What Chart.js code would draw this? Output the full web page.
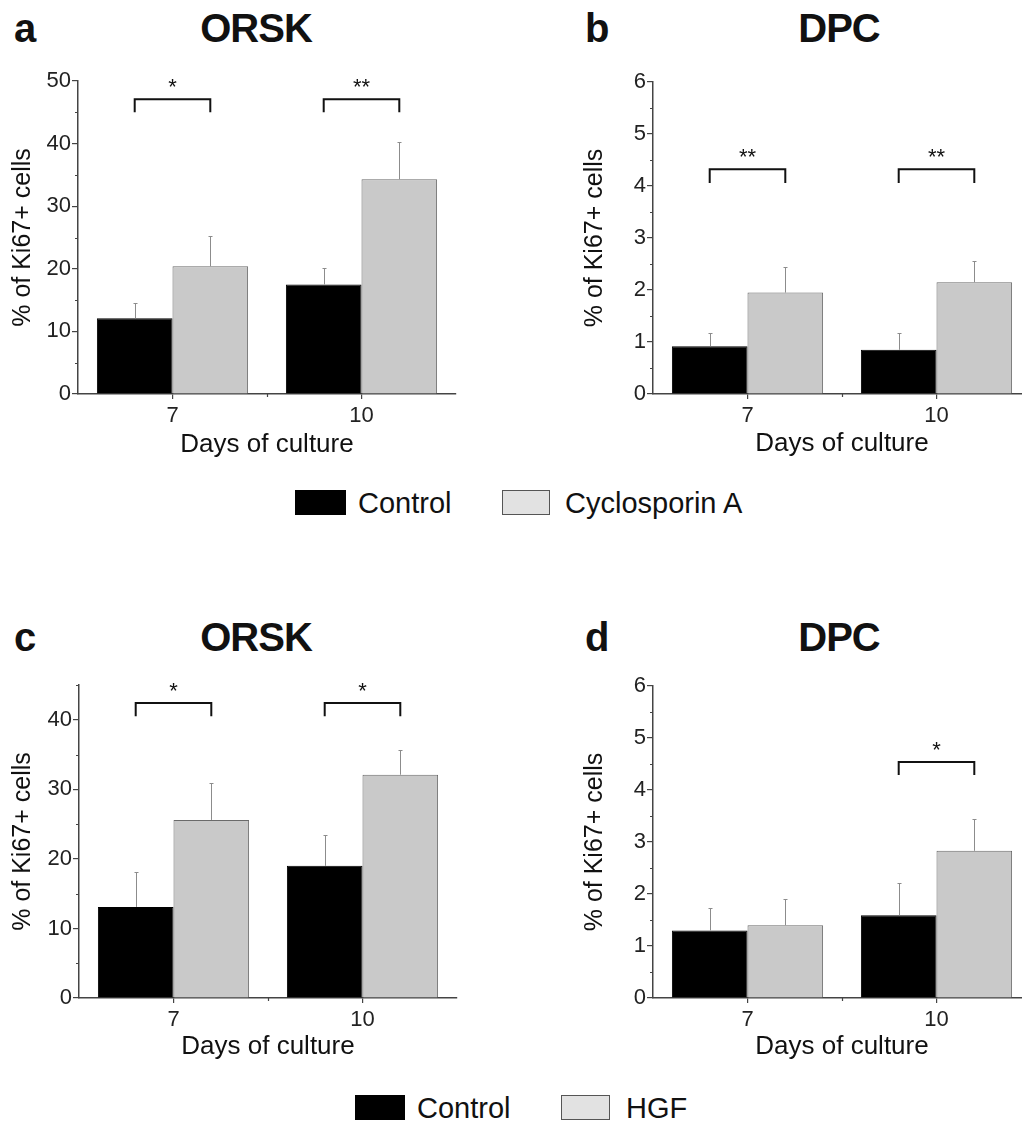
<!DOCTYPE html>
<html>
<head>
<meta charset="utf-8">
<script src="https://cdn.jsdelivr.net/npm/chart.js@4.4.1/dist/chart.umd.min.js"></script>
<style>
  html, body { margin: 0; padding: 0; background: #fff; }
  body { position: relative; width: 1022px; height: 1122px; overflow: hidden; font-family: "Liberation Sans", Arial, sans-serif; color: #111; }
  .pane { position: absolute; }
  .lbl { position: absolute; font-weight: bold; font-size: 40px; line-height: 1; letter-spacing: -1px; white-space: nowrap; }
  .ttl { text-align: center; width: 200px; }
  .leg { position: absolute; font-size: 29px; line-height: 1; white-space: nowrap; }
  .sw { position: absolute; box-sizing: border-box; height: 25px; }
</style>
</head>
<body>
<div class="lbl" style="left:14px;top:8px">a</div>
<div class="lbl ttl" style="left:156px;top:8px">ORSK</div>
<div class="lbl" style="left:585px;top:8px">b</div>
<div class="lbl ttl" style="left:739px;top:8px">DPC</div>
<div class="lbl" style="left:14px;top:617px">c</div>
<div class="lbl ttl" style="left:156px;top:617px">ORSK</div>
<div class="lbl" style="left:585px;top:617px">d</div>
<div class="lbl ttl" style="left:739px;top:617px">DPC</div>

<div class="pane" style="left:0;top:0"><canvas id="chartA" width="511" height="470"></canvas></div>
<div class="pane" style="left:511px;top:0"><canvas id="chartB" width="540" height="470"></canvas></div>
<div class="pane" style="left:0;top:560px"><canvas id="chartC" width="511" height="520"></canvas></div>
<div class="pane" style="left:511px;top:560px"><canvas id="chartD" width="540" height="520"></canvas></div>

<div class="sw" style="left:295px;top:490px;width:51px;background:#000"></div>
<div class="leg" style="left:358px;top:489px">Control</div>
<div class="sw" style="left:502px;top:490px;width:48px;background:#e2e2e2;border:1px solid #555"></div>
<div class="leg" style="left:565px;top:489px">Cyclosporin A</div>

<div class="sw" style="left:355px;top:1095px;width:50px;background:#000"></div>
<div class="leg" style="left:417px;top:1094px">Control</div>
<div class="sw" style="left:561px;top:1095px;width:49px;background:#e2e2e2;border:1px solid #555"></div>
<div class="leg" style="left:626px;top:1094px">HGF</div>

<script>
const days = ['7', '10'];

// a - ORSK, cyclosporin A
const ctrlA = [12.1, 17.5];
const ctrlAErr = [2.4, 2.6];
const csaA = [20.4, 34.3];
const csaAErr = [4.9, 6.0];
const sigA = [[0, 47.1, 45.0, '*'], [1, 47.1, 45.0, '**']];

// b - DPC, cyclosporin A
const ctrlB = [0.92, 0.85];
const ctrlBErr = [0.25, 0.32];
const csaB = [1.95, 2.15];
const csaBErr = [0.49, 0.41];
const sigB = [[0, 4.32, 4.06, '**'], [1, 4.32, 4.06, '**']];

// c - ORSK, HGF
const ctrlC = [13.1, 19.0];
const ctrlCErr = [5.0, 4.5];
const hgfC = [25.6, 32.1];
const hgfCErr = [5.3, 3.5];
const sigC = [[0, 42.4, 40.5, '*'], [1, 42.4, 40.5, '*']];

// d - DPC, HGF
const ctrlD = [1.30, 1.59];
const ctrlDErr = [0.43, 0.63];
const hgfD = [1.40, 2.83];
const hgfDErr = [0.50, 0.62];
const sigD = [[1, 4.54, 4.29, '*']];

const FONT = '"Liberation Sans", Arial, sans-serif';
const AXIS = '#444';

// upward error bars
const errorBars = {
  id: 'errorBars',
  afterDatasetsDraw(chart) {
    const ctx = chart.ctx;
    const y = chart.scales.y;
    ctx.save();
    ctx.strokeStyle = '#8c8c8c';
    ctx.lineWidth = 1;
    chart.data.datasets.forEach((ds, i) => {
      chart.getDatasetMeta(i).data.forEach((bar, j) => {
        const top = Math.round(y.getPixelForValue(ds.data[j] + ds.errors[j])) + 0.5;
        const x = Math.round(bar.x) + 0.5;
        ctx.beginPath();
        ctx.moveTo(x, bar.y);
        ctx.lineTo(x, top);
        ctx.moveTo(x - 2, top);
        ctx.lineTo(x + 2, top);
        ctx.stroke();
      });
    });
    ctx.restore();
  }
};

// significance brackets + stars
const brackets = {
  id: 'brackets',
  afterDraw(chart, args, opts) {
    const ctx = chart.ctx;
    const y = chart.scales.y;
    ctx.save();
    ctx.strokeStyle = '#111';
    ctx.lineWidth = 2;
    ctx.fillStyle = '#111';
    ctx.font = '22px ' + FONT;
    ctx.textAlign = 'center';
    ctx.textBaseline = 'alphabetic';
    (opts.items || []).forEach(([cat, level, leg, txt]) => {
      const x0 = chart.getDatasetMeta(0).data[cat].x;
      const x1 = chart.getDatasetMeta(1).data[cat].x;
      const yl = y.getPixelForValue(level);
      const yb = y.getPixelForValue(leg);
      ctx.beginPath();
      ctx.moveTo(x0, yb);
      ctx.lineTo(x0, yl);
      ctx.lineTo(x1, yl);
      ctx.lineTo(x1, yb);
      ctx.stroke();
      ctx.fillText(txt, (x0 + x1) / 2, yl - 5);
    });
    ctx.restore();
  }
};

// short unlabeled ticks between the labelled ones
const minorTicks = {
  id: 'minorTicks',
  afterDraw(chart) {
    const ctx = chart.ctx;
    const y = chart.scales.y;
    const x = chart.scales.x;
    const step = chart.options.scales.y.ticks.stepSize;
    ctx.save();
    ctx.strokeStyle = AXIS;
    ctx.lineWidth = 1.2;
    ctx.beginPath();
    for (let v = step / 2; v <= y.max + 1e-9; v += step) {
      const py = Math.round(y.getPixelForValue(v)) + 0.5;
      ctx.moveTo(y.right - 3, py);
      ctx.lineTo(y.right, py);
    }
    for (let i = 0; i < days.length - 1; i++) {
      const px = Math.round((x.getPixelForTick(i) + x.getPixelForTick(i + 1)) / 2) + 0.5;
      ctx.moveTo(px, x.top);
      ctx.lineTo(px, x.top + 3);
    }
    ctx.stroke();
    ctx.restore();
  }
};

function makePanel(id, ctrl, ctrlErr, trt, trtErr, trtName, yMax, yStep, sig, box) {
  const ctx = document.getElementById(id).getContext('2d');
  return new Chart(ctx, {
    type: 'bar',
    data: {
      labels: days,
      datasets: [{
        label: 'Control',
        data: ctrl,
        errors: ctrlErr,
        backgroundColor: '#000',
        borderColor: '#000',
        borderWidth: 1
      }, {
        label: trtName,
        data: trt,
        errors: trtErr,
        backgroundColor: '#c9c9c9',
        borderColor: '#6a6a6a',
        borderWidth: 1
      }]
    },
    options: {
      responsive: false,
      animation: false,
      layout: { padding: { left: 0, top: box.top, right: box.right, bottom: 0 } },
      categoryPercentage: 0.8,
      barPercentage: 1.0,
      plugins: {
        legend: { display: false },
        tooltip: { enabled: false },
        brackets: { items: sig }
      },
      scales: {
        x: {
          offset: true,
          grid: { display: true, offset: false, drawOnChartArea: false, tickLength: 5, color: AXIS, lineWidth: 1.2 },
          border: { color: AXIS, width: 1.5 },
          ticks: { color: '#222', font: { family: FONT, size: 22 }, padding: 4 },
          title: { display: true, text: 'Days of culture', color: '#111', font: { family: FONT, size: 26 }, padding: { top: 0, bottom: box.xPad } },
          afterFit(s) { s.height = box.xH; }
        },
        y: {
          min: 0,
          max: yMax,
          grid: { display: true, drawOnChartArea: false, tickLength: 6, color: AXIS, lineWidth: 1.2 },
          border: { color: AXIS, width: 1.5 },
          ticks: { stepSize: yStep, includeBounds: false, color: '#222', font: { family: FONT, size: 22 }, padding: 1 },
          title: { display: true, text: '% of Ki67+ cells', color: '#111', font: { family: FONT, size: 25 }, padding: { top: box.yPad, bottom: 0 } },
          afterFit(s) { s.width = box.yW; }
        }
      }
    },
    plugins: [errorBars, brackets, minorTicks]
  });
}

makePanel('chartA', ctrlA, ctrlAErr, csaA, csaAErr, 'Cyclosporin A', 50, 10, sigA,
  { top: 81, right: 55, yW: 78, xH: 76, yPad: 8, xPad: 10 });
makePanel('chartB', ctrlB, ctrlBErr, csaB, csaBErr, 'Cyclosporin A', 6, 1, sigB,
  { top: 82, right: 20, yW: 142, xH: 76, yPad: 69, xPad: 11 });
makePanel('chartC', ctrlC, ctrlCErr, hgfC, hgfCErr, 'HGF', 45, 10, sigC,
  { top: 125, right: 54, yW: 79, xH: 82, yPad: 8, xPad: 18 });
makePanel('chartD', ctrlD, ctrlDErr, hgfD, hgfDErr, 'HGF', 6, 1, sigD,
  { top: 126, right: 20, yW: 142, xH: 82, yPad: 69, xPad: 18 });
</script>
</body>
</html>
